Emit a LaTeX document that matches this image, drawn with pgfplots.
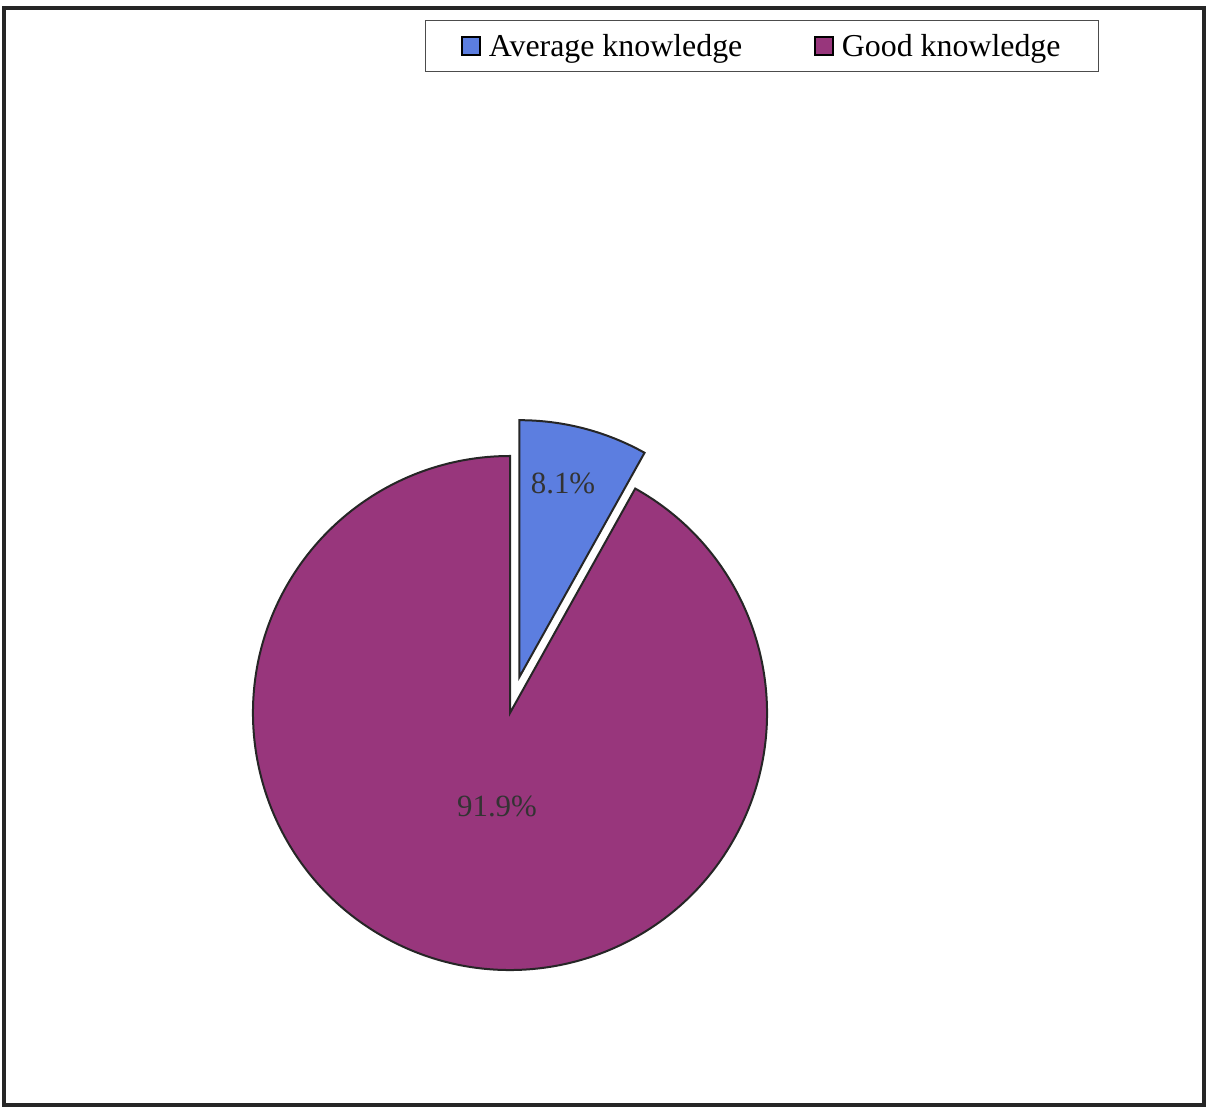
\documentclass[border=0pt]{standalone}
\usepackage{pgfplots}
\usepackage{pgfplotstable}
\pgfplotsset{compat=1.18}
\usepackage{fontspec}
\setmainfont{Liberation Serif}

\definecolor{avgblue}{RGB}{92,126,224}
\definecolor{goodpurple}{RGB}{152,54,124}

\pgfplotstableread{
label value
Average 8.1
Good 91.9
}\piedata

\begin{document}
\begin{tikzpicture}
\pgfplotstablegetelem{0}{value}\of\piedata
\pgfmathsetmacro\va{\pgfplotsretval}
\pgfmathsetmacro\aend{90-3.6*\va}
\pgfmathsetmacro\amid{90-1.8*\va}
\begin{axis}[
    scale only axis,
    width=1211bp, height=1107bp,
    xmin=0, xmax=1211, ymin=0, ymax=1107,
    hide axis,
    clip=false,
    legend columns=2,
    legend style={at={(axis cs:762,1061)}, anchor=center,
        draw=black!70, line width=1.2bp, font=\fontsize{32}{36}\selectfont,
        inner xsep=36bp, inner ysep=12bp,
        /tikz/every odd column/.append style={column sep=6bp},
        /tikz/every even column/.append style={column sep=70bp}},
    legend image code/.code={\draw[#1, line width=1.5bp] (0bp,-9bp) rectangle (18bp,9bp);},
]
\path (axis cs:0,0) rectangle (axis cs:1211,1107);
% frame
\draw[line width=4bp, black!85] (axis cs:4,2) rectangle (axis cs:1204,1099);
\addlegendimage{fill=avgblue, draw=black}
\addlegendentry{Average knowledge}
\addlegendimage{fill=goodpurple, draw=black}
\addlegendentry{Good knowledge}
% pie slices from the table values
\filldraw[fill=goodpurple, draw=black!85, line width=2bp]
    (axis cs:510,394) -- ++(\aend:257bp) arc[start angle=\aend, end angle=-270, radius=257bp] -- cycle;
\filldraw[fill=avgblue, draw=black!85, line width=2bp]
    ([shift={(\amid:37bp)}]axis cs:510,394) -- ++(90:257bp) arc[start angle=90, end angle=\aend, radius=257bp] -- cycle;
\node[text=black!80, font=\fontsize{31}{36}\selectfont] at (axis cs:563,624) {8.1\%};
\node[text=black!80, font=\fontsize{31}{36}\selectfont] at (axis cs:497,301) {91.9\%};
\end{axis}
\end{tikzpicture}
\end{document}
